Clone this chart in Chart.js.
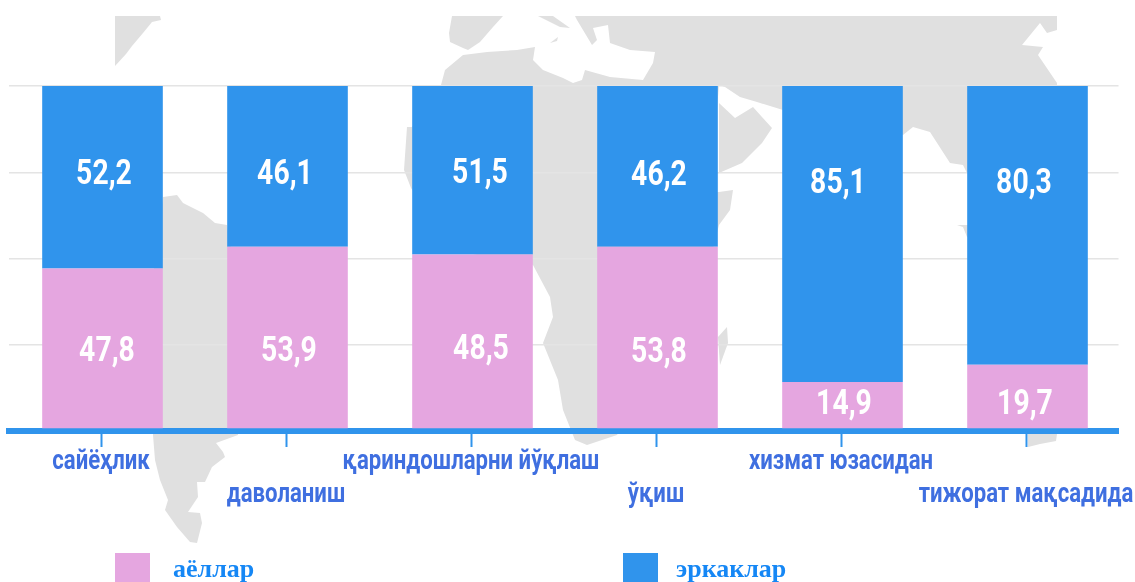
<!DOCTYPE html>
<html>
<head>
<meta charset="utf-8">
<script src="https://cdn.jsdelivr.net/npm/chart.js@4"></script>
<style>
    html, body { margin: 0; padding: 0; background: #fff; overflow: hidden; }
    #wrap { position: relative; width: 1135px; height: 582px; }
    #map, #myChart { position: absolute; left: 0; top: 0; }
</style>
</head>
<body>
<div id="wrap">
    <!-- world map behind the chart, only decoration -->
    <svg id="map" width="1135" height="582" fill="#e0e0e0">
        <path d="M115,16 L160,16 L161,20 L152,22 L143,33 L132,46 L126,54 L115,66 Z"/>
        <path d="M163,197 L177,195 L183,203 L203,213 L215,223 L227,225 L240,300 L238,435 L216,443 L223,452 L225,457 L212,467 L205,482 L197,482 L198,497 L188,512 L200,513 L202,523 L197,543 L190,542 L177,527 L165,510 L168,500 L160,480 L155,460 L153,435 L150,300 Z"/>
        <path d="M452,16 L503,16 L493,27 L480,42 L468,50 L463,48 L450,42 L449,33 Z"/>
        <path d="M538,16 L553,16 L570,28 L560,27 Z"/>
        <path d="M550,43 L558,37 L557,41 Z"/>
        <path d="M575,16 L1057,16 L1057,30 L1047,33 L1040,23 L1022,45 L1043,47 L1038,55 L1057,83 L1057,86 L1040,200 L967,173 L963,165 L950,163 L930,132 L913,127 L903,135 L783,110 L757,102 L740,97 L725,87 L719,85 L710,192 L719,192 L733,190 L730,210 L719,225 L700,300 L617,435 L587,445 L575,440 L563,410 L558,380 L543,343 L553,317 L550,297 L533,265 L450,250 L411,188 L404,170 L407,127 L412,127 L441,85 L445,70 L463,55 L487,52 L517,50 L535,47 L533,60 L543,70 L563,78 L573,83 L582,80 L585,70 L610,77 L643,80 L653,63 L655,52 L630,50 L610,43 L608,25 L593,28 L597,40 L592,45 L577,20 Z"/>
        <path d="M719,103 L735,118 L753,107 L772,128 L762,143 L742,163 L719,173 Z"/>
        <path d="M957,225 L963,227 L967,237 L975,240 L975,225 Z"/>
        <path d="M718,337 L727,327 L728,343 L720,365 Z"/>
        <path d="M1028,434 L1057,434 L1056,441 L1040,444 L1028,447 Z"/>
    </svg>
    <canvas id="myChart" width="1135" height="582"></canvas>
</div>
<script>
const categories = ['сайёҳлик', 'даволаниш', 'қариндошларни йўқлаш', 'ўқиш', 'хизмат юзасидан', 'тижорат мақсадида'];
const seriesNames = ['аёллар', 'эркаклар'];
// bar heights as drawn in the picture (they differ a bit from the printed numbers)
const womenBars = [46.8, 53.1, 50.9, 53.1, 13.7, 18.7];
const menBars = [53.2, 46.9, 49.1, 46.9, 86.3, 81.3];
// numbers printed on the bars
const womenLabels = ['47,8', '53,9', '48,5', '53,8', '14,9', '19,7'];
const menLabels = ['52,2', '46,1', '51,5', '46,2', '85,1', '80,3'];
const gridTicks = [0, 24.5, 49.6, 74.7, 100];

const blue = '#3094ec';
const pink = '#e5a6e0';
const labelBlue = '#3f6fe0';

// labels in the picture are hand placed, not centred in the bars
const womenLabelLevel = [23.3, 23.3, 23.9, 23, 7.9, 7.9];
const menLabelLevel = [75, 75, 75.3, 74.7, 72.3, 72.3];
const womenLabelShift = [6, 3, 10, 3, 3, -1];
const menLabelShift = [3, -1, 9, 3, -3, -2];

// no condensed Roboto installed, so squeeze the normal one sideways
const squeezedText = function(ctx, text, x, y, font, color, squeeze) {
    ctx.save();
    ctx.font = font;
    ctx.fillStyle = color;
    ctx.textAlign = 'center';
    ctx.textBaseline = 'alphabetic';
    ctx.translate(x, y);
    ctx.scale(squeeze, 1);
    ctx.fillText(text, 0, 0);
    ctx.restore();
};

const textPlugin = {
    id: 'textPlugin',
    // bars sit a little right of their ticks in the picture
    beforeDatasetsDraw(chart) {
        chart.ctx.save();
        chart.ctx.translate(1.5, 0);
    },
    afterDatasetsDraw(chart) {
        chart.ctx.restore();
    },
    afterDraw(chart) {
        const ctx = chart.ctx;
        const xs = chart.scales.x;
        const ys = chart.scales.y;
        categories.forEach((name, i) => {
            const x = xs.getPixelForTick(i);
            const row = i % 2 === 0 ? 469 : 502;
            squeezedText(ctx, name, x, row, 'bold 27px Roboto', labelBlue, 0.82);
            squeezedText(ctx, womenLabels[i], x + womenLabelShift[i], ys.getPixelForValue(womenLabelLevel[i]) + 12, 'bold 35px Roboto', '#fff', 0.81);
            squeezedText(ctx, menLabels[i], x + menLabelShift[i], ys.getPixelForValue(menLabelLevel[i]) + 12, 'bold 35px Roboto', '#fff', 0.81);
        });
        // legend
        const legendX = [115, 623];
        const legendTextX = [173, 676];
        chart.data.datasets.forEach((d, i) => {
            ctx.fillStyle = d.backgroundColor;
            ctx.fillRect(legendX[i], 553, 35, 30);
            ctx.font = 'bold 26px "Liberation Serif"';
            ctx.fillStyle = '#1587f5';
            ctx.textAlign = 'left';
            ctx.textBaseline = 'alphabetic';
            ctx.fillText(d.label, legendTextX[i], 577);
        });
    }
};

new Chart(document.getElementById('myChart'), {
    type: 'bar',
    data: {
        labels: categories,
        datasets: [
            { label: seriesNames[0], data: womenBars, backgroundColor: pink },
            { label: seriesNames[1], data: menBars, backgroundColor: blue },
        ],
    },
    options: {
        responsive: false,
        animation: false,
        layout: { padding: { left: 8.5, right: 16.5, top: 86, bottom: 0 } },
        plugins: { legend: { display: false }, tooltip: { enabled: false } },
        datasets: { bar: { barPercentage: 0.652, categoryPercentage: 1 } },
        scales: {
            x: {
                stacked: true,
                grid: { offset: false, drawOnChartArea: false, drawTicks: true, tickLength: 16, tickWidth: 2, tickColor: blue },
                border: { color: blue, width: 6 },
                ticks: { display: false },
                afterFit(scale) { scale.height = 151; },
            },
            y: {
                stacked: true,
                min: -0.6,
                max: 100,
                afterBuildTicks(scale) { scale.ticks = gridTicks.map(v => ({ value: v })); },
                grid: { color: '#e4e4e4', lineWidth: 1.5, drawTicks: false },
                border: { display: false },
                ticks: { display: false },
                afterFit(scale) { scale.width = 0; },
            },
        },
    },
    plugins: [textPlugin],
});
</script>
</body>
</html>
